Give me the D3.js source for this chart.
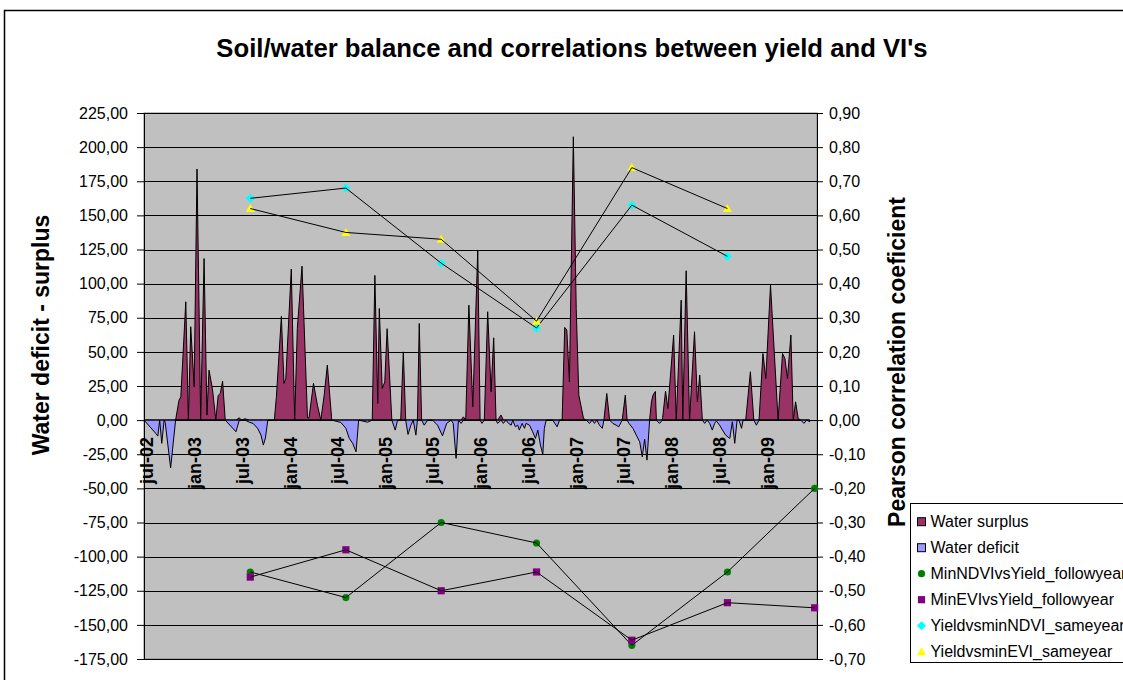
<!DOCTYPE html>
<html><head><meta charset="utf-8">
<script src="https://cdn.jsdelivr.net/npm/d3@7"></script>
<style>body{margin:0;background:#fff}svg{display:block;font-family:"Liberation Sans",Arial,sans-serif}</style>
</head><body><svg id="c" width="1123" height="680"></svg>
<script>
// ---- data ----
const dates = ["2002-06-20","2002-08-03","2002-08-12","2002-08-19","2002-08-27","2002-09-05","2002-09-09","2002-09-30","2002-10-19","2002-11-01","2002-11-08","2002-11-27","2002-12-07","2002-12-16","2002-12-29","2003-01-09","2003-01-23","2003-02-05","2003-02-16","2003-02-24","2003-03-09","2003-03-22","2003-03-31","2003-04-08","2003-04-17","2003-04-27","2003-06-07","2003-06-20","2003-06-28","2003-07-12","2003-07-28","2003-08-12","2003-08-29","2003-09-11","2003-09-20","2003-09-28","2003-10-07","2003-11-01","2003-11-09","2003-11-28","2003-12-08","2003-12-15","2004-01-05","2004-01-18","2004-01-28","2004-02-15","2004-03-07","2004-03-13","2004-03-30","2004-04-14","2004-04-27","2004-05-10","2004-05-22","2004-06-08","2004-07-13","2004-08-01","2004-08-14","2004-08-27","2004-09-09","2004-09-19","2004-10-23","2004-11-10","2004-11-20","2004-12-01","2004-12-07","2004-12-18","2004-12-28","2005-01-06","2005-01-24","2005-02-06","2005-02-15","2005-02-27","2005-03-09","2005-03-18","2005-03-27","2005-04-07","2005-04-16","2005-04-26","2005-05-02","2005-05-09","2005-05-18","2005-05-28","2005-06-10","2005-06-29","2005-07-18","2005-08-06","2005-08-22","2005-09-08","2005-09-16","2005-09-27","2005-10-06","2005-10-16","2005-10-25","2005-11-03","2005-11-15","2005-11-30","2005-12-19","2005-12-28","2006-01-04","2006-01-13","2006-01-26","2006-02-08","2006-02-18","2006-02-27","2006-03-05","2006-03-18","2006-03-27","2006-04-06","2006-04-16","2006-04-26","2006-05-02","2006-05-12","2006-05-21","2006-05-27","2006-06-07","2006-06-16","2006-06-22","2006-07-05","2006-07-17","2006-07-28","2006-08-06","2006-08-16","2006-08-25","2006-08-31","2006-09-07","2006-10-02","2006-10-19","2006-10-28","2006-11-07","2006-11-17","2006-11-25","2006-12-05","2006-12-20","2006-12-31","2007-01-10","2007-01-28","2007-02-07","2007-02-20","2007-03-02","2007-03-11","2007-03-20","2007-03-30","2007-04-10","2007-04-16","2007-04-27","2007-05-08","2007-05-20","2007-06-02","2007-06-12","2007-06-25","2007-07-07","2007-07-14","2007-07-21","2007-08-05","2007-08-18","2007-08-31","2007-09-10","2007-09-19","2007-09-28","2007-10-08","2007-10-15","2007-10-21","2007-10-30","2007-11-03","2007-11-15","2007-11-26","2007-12-08","2007-12-17","2008-01-08","2008-01-18","2008-02-06","2008-02-12","2008-02-25","2008-03-09","2008-03-28","2008-04-08","2008-04-17","2008-04-27","2008-05-06","2008-05-15","2008-05-25","2008-06-04","2008-06-13","2008-06-20","2008-07-02","2008-07-13","2008-07-25","2008-08-10","2008-08-20","2008-08-29","2008-09-07","2008-09-14","2008-09-24","2008-09-30","2008-10-10","2008-10-28","2008-11-10","2008-11-20","2008-11-30","2008-12-15","2008-12-26","2009-01-13","2009-02-11","2009-02-28","2009-03-09","2009-03-19","2009-04-01","2009-04-10","2009-04-19","2009-04-29","2009-05-09","2009-05-21","2009-06-01","2009-06-12"];
const balance = [0,-9.5,-11.7,0,-17,0,-1.5,-35,0,14.6,17,86.7,0,68.4,24.4,184,0,118.4,3.7,36.6,23,0,18,19.5,28.6,0,-8.5,1.7,0,1,-1.5,-2.5,-6,-11,-18.3,-13,0,0,17,76,26.9,30.5,110.6,0,67,112.8,1.7,1.7,26.9,11,0,18.3,40.3,0,-1.7,-6,-13.4,-17,-23.2,0,-1.5,0,106,12.2,81.8,23.2,28,67,0,-7.3,0,0,50,0,-10.5,-3.7,0,-11,0,70.8,0,-3.7,0,0,-3.7,-11.5,-2.4,0,-2.4,-28,0,-2.4,2.4,0,84.2,9.8,124.5,0,-2.4,0,79.4,20.8,60.3,0,-2.4,3.7,-2.4,0,-2.4,-3.7,0,-4.9,-3.7,-7.3,-2.4,-6,-2.4,-3.7,-8.5,-13.4,-7.3,-18.3,-25,-6,0,0,-4.9,0,0,67.9,66,28,207.6,81.8,18.3,1.2,0,-2.4,0,-2.4,0,-3.7,-6,0,19.5,0,-2.4,-3.7,-4.9,0,18.3,0,-2.4,-6,-11,-15.9,-26.9,-14,-29.3,0,13.4,18.3,21,0,-2.4,0,21.2,8.5,62.3,0,87.9,0,109.4,0,64.7,13.4,33,0,-2.4,0,-2.4,-7.3,-2.4,-0.7,-3.7,-7.3,-11,-13.4,-1.2,-17,0,0,-6,0,0,35.4,0,-3.7,0,48.8,30.5,98.9,0,48.8,45.2,30.5,62.3,0,13.4,1.2,0,-2.4,0,-1.2];

const corrDates = ["2003-08-01","2004-08-01","2005-08-01","2006-08-01","2007-08-01","2008-08-01","2009-07-01"];
const minNDVIfollow = [-0.445,-0.52,-0.30,-0.36,-0.66,-0.445,-0.20];
const minEVIfollow  = [-0.46,-0.38,-0.50,-0.445,-0.645,-0.535,-0.55];
const yieldNDVIsame = [0.65,0.68,0.46,0.27,0.63,0.48];
const yieldEVIsame  = [0.62,0.55,0.53,0.29,0.74,0.62];

const xTickLabels = ["jul-02","jan-03","jul-03","jan-04","jul-04","jan-05","jul-05","jan-06","jul-06","jan-07","jul-07","jan-08","jul-08","jan-09"];
const xTickDates  = ["2002-07-01","2003-01-01","2003-07-01","2004-01-01","2004-07-01","2005-01-01","2005-07-01","2006-01-01","2006-07-01","2007-01-01","2007-07-01","2008-01-01","2008-07-01","2009-01-01"];
const leftTicks  = [-175,-150,-125,-100,-75,-50,-25,0,25,50,75,100,125,150,175,200,225];
const rightTicks = [-0.7,-0.6,-0.5,-0.4,-0.3,-0.2,-0.1,0,0.1,0.2,0.3,0.4,0.5,0.6,0.7,0.8,0.9];
const legendNames = ["Water surplus","Water deficit","MinNDVIvsYield_followyear","MinEVIvsYield_followyear","YieldvsminNDVI_sameyear","YieldvsminEVI_sameyear"];

// ---- setup ----
const parse = d3.utcParse("%Y-%m-%d");
const svg = d3.select("#c");
const L = 144, R = 817, T = 113, B = 659;
const x = d3.scaleUtc().domain([parse("2002-06-20"), parse("2009-07-10")]).range([L, R]);
const yL = d3.scaleLinear().domain([-175, 225]).range([B, T]);
const yR = d3.scaleLinear().domain([-0.7, 0.9]).range([B, T]);
const loc = d3.formatLocale({decimal: ",", thousands: ".", grouping: [3], currency: ["", ""], minus: "-"});
const f2 = loc.format(".2f");

svg.append("rect").attr("width", 1123).attr("height", 680).attr("fill", "#fff");
svg.append("rect").attr("x", 4.5).attr("y", 10.5).attr("width", 1200).attr("height", 720)
  .attr("fill", "none").attr("stroke", "#000").attr("stroke-width", 1.5);

// title
svg.append("text").attr("x", 572).attr("y", 57).attr("text-anchor", "middle")
  .attr("font-size", 25.7).attr("font-weight", "bold").text("Soil/water balance and correlations between yield and VI's");

// plot area
svg.append("rect").attr("x", L).attr("y", T).attr("width", R - L).attr("height", B - T)
  .attr("fill", "#C0C0C0").attr("stroke", "#808080");

// gridlines
svg.append("g").selectAll("line").data(leftTicks).join("line")
  .attr("x1", L).attr("x2", R).attr("y1", d => Math.round(yL(d)) + 0.5).attr("y2", d => Math.round(yL(d)) + 0.5)
  .attr("stroke", "#000").attr("stroke-width", 1);

// water balance areas
const pts = dates.map((d, i) => ({date: parse(d), v: balance[i]}));
const surplus = pts.map(p => ({date: p.date, v: Math.max(p.v, 0)}));
const deficit = pts.map(p => ({date: p.date, v: Math.min(p.v, 0)}));
const area = d3.area().x(d => x(d.date)).y0(yL(0)).y1(d => yL(d.v));
svg.append("path").datum(surplus).attr("d", area).attr("fill", "#993366").attr("stroke", "#000").attr("stroke-width", 1);
svg.append("path").datum(deficit).attr("d", area).attr("fill", "#9999FF").attr("stroke", "#000").attr("stroke-width", 1);

// x tick labels
const xl = svg.append("g").attr("font-size", 18).attr("font-weight", "bold");
xTickDates.forEach((d, i) => {
  xl.append("text").attr("transform", `translate(${x(parse(d))},437) rotate(-90)`)
    .attr("text-anchor", "end").attr("dy", "0.35em").text(xTickLabels[i]);
});

// left axis
const ga = svg.append("g").attr("transform", `translate(${L},0)`)
  .call(d3.axisLeft(yL).tickValues(leftTicks).tickFormat(f2).tickSize(7).tickSizeOuter(0).tickPadding(9));
ga.select(".domain").attr("stroke", "#000");
ga.selectAll("text").attr("font-size", 16).attr("font-family", "Liberation Sans, Arial, sans-serif").attr("fill", "#000");
// right axis
const gb = svg.append("g").attr("transform", `translate(${R},0)`)
  .call(d3.axisRight(yR).tickValues(rightTicks).tickFormat(f2).tickSize(6).tickSizeOuter(0).tickPadding(6));
gb.selectAll("text").attr("font-size", 16).attr("font-family", "Liberation Sans, Arial, sans-serif").attr("fill", "#000");

// axis titles
svg.append("text").attr("transform", "translate(41,335) rotate(-90)").attr("text-anchor", "middle").attr("dy", "0.35em")
  .attr("font-size", 23).attr("font-weight", "bold").text("Water deficit - surplus");
svg.append("text").attr("transform", "translate(897,362) rotate(-90)").attr("text-anchor", "middle").attr("dy", "0.35em")
  .attr("font-size", 23).attr("font-weight", "bold").text("Pearson correlation coeficient");

// correlation series
const cd = corrDates.map(parse);
const line = d3.line().x(d => x(d.date)).y(d => yR(d.v));
const series = [
  {vals: minNDVIfollow, color: "#008000", shape: "circle"},
  {vals: minEVIfollow, color: "#800080", shape: "square"},
  {vals: yieldNDVIsame, color: "#00FFFF", shape: "diamond"},
  {vals: yieldEVIsame, color: "#FFFF00", shape: "triangle"}
];
function marker(g, shape, cx, cy, color) {
  if (shape === "circle") g.append("circle").attr("cx", cx).attr("cy", cy).attr("r", 3.6).attr("fill", color);
  else if (shape === "square") g.append("rect").attr("x", cx - 3.6).attr("y", cy - 3.6).attr("width", 7.2).attr("height", 7.2).attr("fill", color);
  else if (shape === "diamond") g.append("path").attr("d", `M${cx},${cy-4.5}L${cx+4.5},${cy}L${cx},${cy+4.5}L${cx-4.5},${cy}Z`).attr("fill", color);
  else g.append("path").attr("d", `M${cx},${cy-4.5}L${cx+4.5},${cy+3.5}L${cx-4.5},${cy+3.5}Z`).attr("fill", color);
}
series.forEach(s => {
  const data = s.vals.map((v, i) => ({date: cd[i], v}));
  const g = svg.append("g");
  data.forEach(d => marker(g, s.shape, x(d.date), yR(d.v), s.color));
  g.append("path").datum(data).attr("d", line).attr("fill", "none").attr("stroke", "#000").attr("stroke-width", 1);
});

// legend
const lg = svg.append("g");
lg.append("rect").attr("x", 910.5).attr("y", 503.5).attr("width", 260).attr("height", 159).attr("fill", "#fff").attr("stroke", "#000");
const legColors = ["#993366", "#9999FF", "#008000", "#800080", "#00FFFF", "#FFFF00"];
const legShapes = ["box", "box", "circle", "square", "diamond", "triangle"];
legendNames.forEach((n, i) => {
  const cy = 521.7 + i * 26;
  if (legShapes[i] === "box") lg.append("rect").attr("x", 917.5).attr("y", cy - 4).attr("width", 8).attr("height", 8).attr("fill", legColors[i]).attr("stroke", "#000");
  else marker(lg, legShapes[i], 921.5, cy, legColors[i]);
  lg.append("text").attr("x", 930.5).attr("y", cy).attr("dy", "0.35em").attr("font-size", 16).text(n);
});
</script></body></html>
